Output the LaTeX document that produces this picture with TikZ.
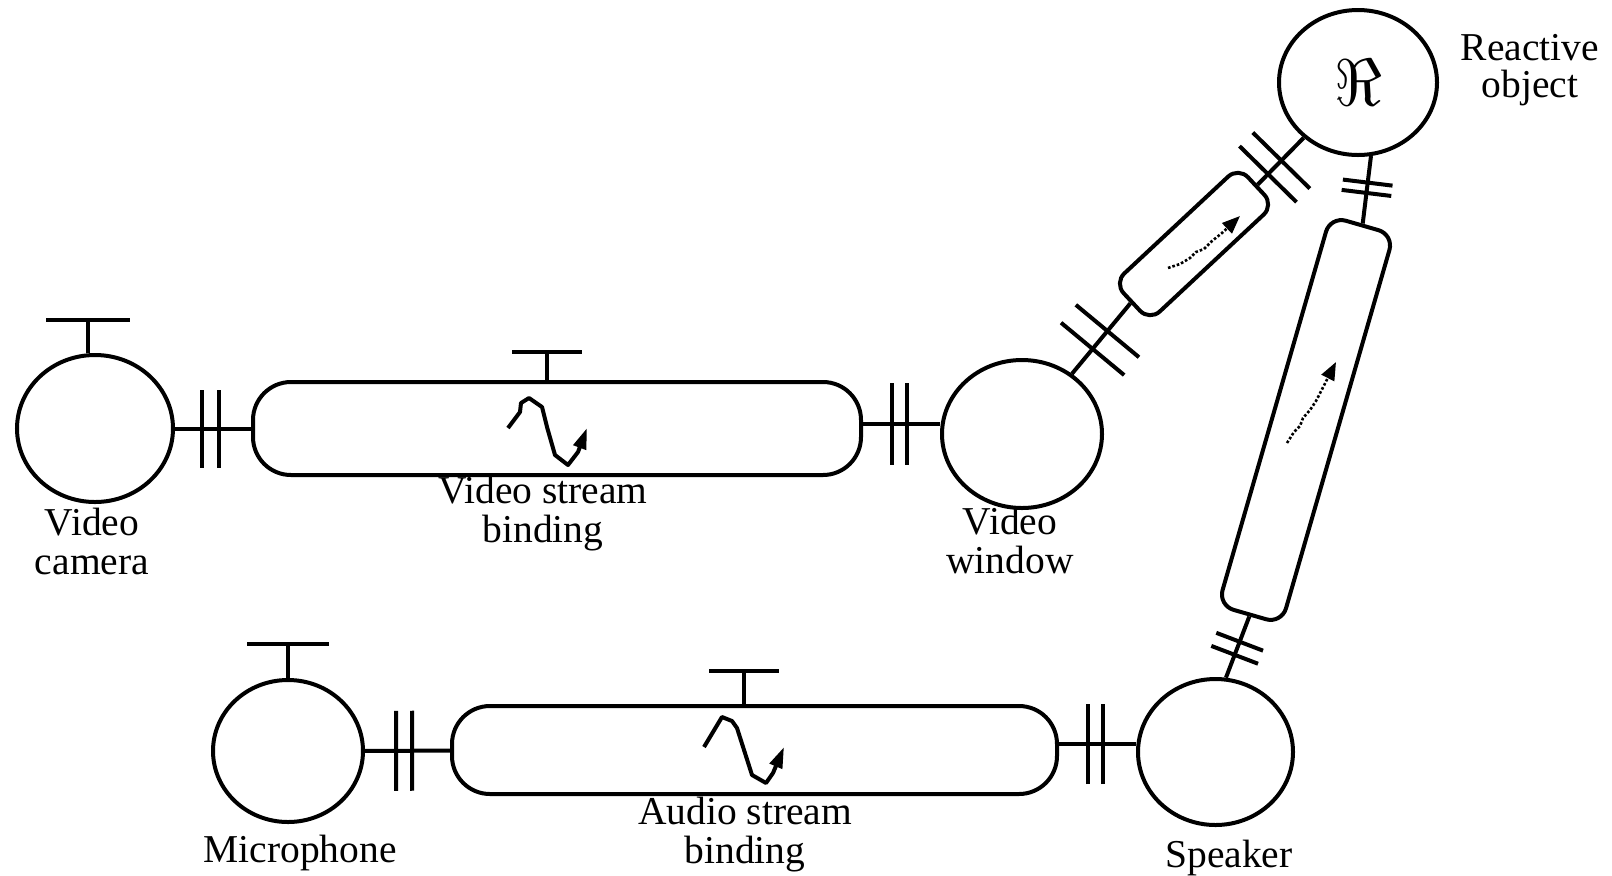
\documentclass[tikz,border=0pt]{standalone}
\usepackage{graphicx}
\usepackage{fontspec}
\setmainfont{Liberation Serif}
\usetikzlibrary{shapes.geometric,arrows.meta,decorations.markings}
\tikzset{
  ln/.style={line width=2pt},
  obj/.style={ellipse, draw, line width=2pt, inner sep=0pt},
  tube/.style={rectangle, draw, line width=2pt, inner sep=0pt},
  lbl/.style={align=center, anchor=base, inner sep=0pt, font=\fontsize{19.75}{19.5}\selectfont},
  dbar/.style args={#1/#2/#3}{postaction={decorate}, decoration={markings,
     mark=at position #1 with {\draw[line width=2pt] (-#2,-#3) -- (-#2,#3) (#2,-#3) -- (#2,#3);}}},
  wave/.style={line width=2pt, line join=round, -{Triangle[length=10.5pt,width=6.5pt]}},
  fuzzy/.style={line width=1.3pt, densely dotted, -{Triangle[length=9pt,width=7pt]}}
}
\begin{document}
\begin{tikzpicture}[x=0.5pt,y=-0.5pt]
\useasboundingbox (0,0) rectangle (1612,875);

% objects
\node[obj, minimum width=78pt, minimum height=73.5pt] (cam) at (95,428.5) {};
\node[obj, minimum width=80pt, minimum height=74pt] (vw) at (1022,434) {};
\node[obj, minimum width=75pt, minimum height=71pt] (mic) at (288,751) {};
\node[obj, minimum width=77.5pt, minimum height=73pt] (spk) at (1215.5,752) {};
\node[obj, minimum width=79pt, minimum height=72.5pt] (R) at (1358,82.5) {\scalebox{3.3}{$\Re$}};

% bindings
\node[tube, rounded corners=19pt, minimum width=304pt, minimum height=46.5pt] (vt) at (557,428.5) {};
\node[tube, rounded corners=19pt, minimum width=302.5pt, minimum height=44pt] (at) at (754.5,750) {};
\node[tube, rounded corners=7pt, rotate=43, minimum width=85pt, minimum height=26pt] (t1) at (1194,244) {};
\node[tube, rounded corners=8pt, rotate=73.9, minimum width=202.5pt, minimum height=33pt] (t2) at (1306,420) {};

% connectors with double bars
\draw[ln, dbar={0.47/4.2pt/19.5pt}] (cam) -- (vt);
\draw[ln, dbar={0.475/3.75pt/20.5pt}] ([yshift=2.5pt]vt.east) -- ([yshift=2.5pt]vt.east -| vw.west);
\draw[ln, dbar={0.46/4pt/20pt}] (mic) -- (at);
\draw[ln, dbar={0.475/3.75pt/20pt}] ([yshift=3pt]at.east) -- ([yshift=3pt]at.east -| spk.west);
\draw[ln, dbar={0.48/5.8pt/20.5pt}] (vw) -- (t1.west);
\draw[ln, dbar={0.37/4.75pt/20pt}] (t1.east) -- (R);
\draw[ln, dbar={0.53/2.6pt/12.5pt}] (t2.east) -- (R.-80);
\draw[ln, dbar={0.52/3.5pt/12.5pt}] (t2.west) -- (spk.82);

% T ports
\coordinate (camT) at (88,320);
\draw[ln] (camT) -- (camT |- cam.north);
\draw[ln] ([xshift=-21pt]camT) -- ([xshift=21pt]camT);
\coordinate (vtT) at (547,352);
\draw[ln] (vtT) -- (vtT |- vt.north);
\draw[ln] ([xshift=-17.5pt]vtT) -- ([xshift=17.5pt]vtT);
\coordinate (micT) at (288,644);
\draw[ln] (micT) -- (micT |- mic.north);
\draw[ln] ([xshift=-20.5pt]micT) -- ([xshift=20.5pt]micT);
\coordinate (atT) at (744,671);
\draw[ln] (atT) -- (atT |- at.north);
\draw[ln] ([xshift=-17.5pt]atT) -- ([xshift=17.5pt]atT);

% stream symbols
\draw[wave] (508,428) -- (520,412) -- (521,403) -- (529,398) -- (542,407) -- (547,427) -- (555,455) -- (568,465) -- (578,452) -- (587,428);
\draw[wave] (704,747) -- (722,717) -- (732,721) -- (737,728) -- (752,775) -- (766,783) -- (773,773) -- (784,747);
\draw[fuzzy] (1168,268) -- (1180,264) -- (1190,258) -- (1196,252) -- (1204,249) -- (1212,241) -- (1222,233) -- (1240,216);
\draw[fuzzy] (1287,443) -- (1294,432) -- (1300,426) -- (1303,418) -- (1310,410) -- (1316,401) -- (1336,362);

% labels
\node[lbl] (camL) at (92,574) {Video\\camera};
\node[lbl] (vtL) at (543,542) {Video stream\\binding};
\node[lbl] (vwL) at (1010,573) {Video\\window};
\node[lbl] (atL) at (745,863) {Audio stream\\binding};
\node[lbl] (micL) at (300,862) {Microphone};
\node[lbl] (spkL) at (1229,867) {Speaker};
\node[lbl, font=\fontsize{19.75}{18.5}\selectfont] (RL) at (1530,97) {Reactive\\object};
\end{tikzpicture}
\end{document}
